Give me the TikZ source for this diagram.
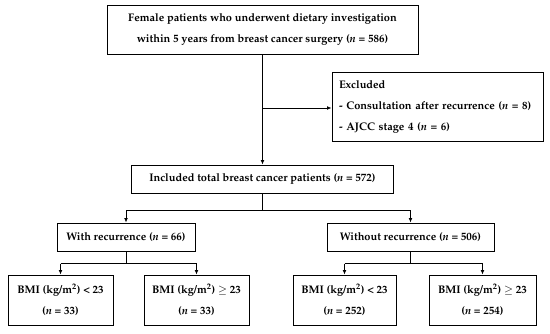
\documentclass[tikz,border=0pt]{standalone}
\usepackage[T1]{fontenc}
\usepackage{mathpazo}
\usetikzlibrary{arrows.meta}
\begin{document}
\begin{tikzpicture}[x=1pt,y=-1pt,
  box/.style={draw,line width=0.9pt,inner sep=0pt,align=center,
    font=\fontsize{11}{21}\selectfont\bfseries},
  conn/.style={line width=0.8pt},
  arr/.style={line width=0.8pt,-{Latex[length=4.5pt,width=3.8pt]}}]
\useasboundingbox (0,0) rectangle (550,333);
\node[box,minimum width=311pt,minimum height=49pt] (top) at (262.5,29.5)
  {Female patients who underwent dietary investigation\\within 5 years from breast cancer surgery (\textit{n} = 586)};
\node[box,minimum width=211pt,minimum height=69pt,align=left,text width=197pt] (excl) at (437.5,106.5)
  {Excluded\\- Consultation after recurrence (\textit{n} = 8)\\- AJCC stage 4 (\textit{n} = 6)};
\node[box,minimum width=262pt,minimum height=28pt] (incl) at (262.5,179)
  {Included total breast cancer patients (\textit{n} = 572)};
\node[box,minimum width=138pt,minimum height=28pt] (with) at (126,237)
  {With recurrence (\textit{n} = 66)};
\node[box,minimum width=167pt,minimum height=28pt] (without) at (410.5,237)
  {Without recurrence (\textit{n} = 506)};
\node[box,minimum width=105pt,minimum height=50pt] (b1) at (60.5,300)
  {BMI (kg/m\textsuperscript{2}) < 23\\(\textit{n} = 33)};
\node[box,minimum width=105pt,minimum height=50pt] (b2) at (196.5,300)
  {BMI (kg/m\textsuperscript{2}) $\geq$ 23\\(\textit{n} = 33)};
\node[box,minimum width=103pt,minimum height=50pt] (b3) at (344.5,300)
  {BMI (kg/m\textsuperscript{2}) < 23\\(\textit{n} = 252)};
\node[box,minimum width=107pt,minimum height=50pt] (b4) at (482.5,300)
  {BMI (kg/m\textsuperscript{2}) $\geq$ 23\\(\textit{n} = 254)};
\coordinate (j1) at (262.5,108);
\coordinate (j2) at (262.5,210);
\coordinate (j3) at (126,263.5);
\coordinate (j4) at (410.5,263.5);
\draw[arr] (top.south) -- (incl.north);
\draw[arr] (j1) -- (j1 -| excl.west);
\draw[conn] (incl.south) -- (j2);
\draw[arr] (j2 -| with.north) -- (with.north);
\draw[arr] (j2 -| without.north) -- (without.north);
\draw[conn] (j2 -| with.north) -- (j2 -| without.north);
\draw[conn] (with.south) -- (j3);
\draw[conn] (j3 -| b1.north) -- (j3 -| b2.north);
\draw[arr] (j3 -| b1.north) -- (b1.north);
\draw[arr] (j3 -| b2.north) -- (b2.north);
\draw[conn] (without.south) -- (j4);
\draw[conn] (j4 -| b3.north) -- (j4 -| b4.north);
\draw[arr] (j4 -| b3.north) -- (b3.north);
\draw[arr] (j4 -| b4.north) -- (b4.north);
\end{tikzpicture}
\end{document}
